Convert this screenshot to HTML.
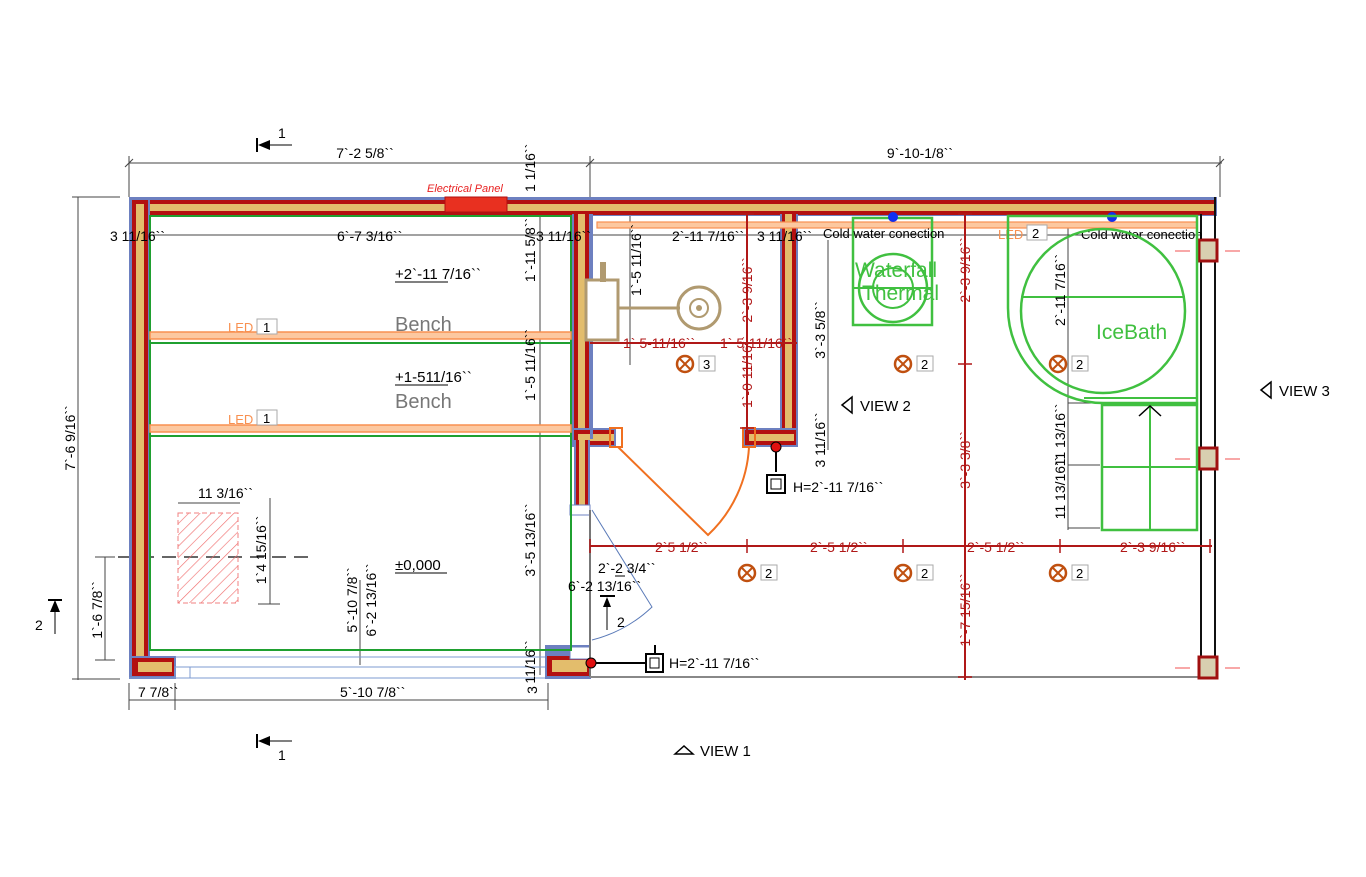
<!DOCTYPE html>
<html><head><meta charset="utf-8"><style>
html,body{margin:0;padding:0;background:#fff}
svg{display:block}
text{font-family:"Liberation Sans",Arial,sans-serif}
</style></head><body>
<svg width="1366" height="877" viewBox="0 0 1366 877" xmlns="http://www.w3.org/2000/svg">
<defs>
<pattern id="hat" width="8" height="8" patternUnits="userSpaceOnUse" patternTransform="rotate(45)">
<line x1="0" y1="0" x2="0" y2="8" stroke="#f07070" stroke-width="1.3"/>
</pattern>
</defs>
<rect width="1366" height="877" fill="#fff"/>

<g stroke="#444" stroke-width="1" fill="none">
<line x1="129" y1="163" x2="1222" y2="163"/>
<line x1="129" y1="156" x2="129" y2="197"/><line x1="590" y1="156" x2="590" y2="197"/><line x1="1220" y1="156" x2="1220" y2="197"/>
<line x1="125" y1="167" x2="133" y2="159"/><line x1="586" y1="167" x2="594" y2="159"/><line x1="1216" y1="167" x2="1224" y2="159"/>
<line x1="78" y1="197" x2="78" y2="680"/>
<line x1="72" y1="197" x2="120" y2="197"/><line x1="72" y1="679" x2="120" y2="679"/>
<line x1="129" y1="235" x2="1200" y2="235"/>
<line x1="129" y1="700" x2="548" y2="700"/>
<line x1="129" y1="683" x2="129" y2="710"/><line x1="175" y1="683" x2="175" y2="710"/><line x1="548" y1="683" x2="548" y2="710"/>
<line x1="540" y1="205" x2="540" y2="675"/>
<line x1="630" y1="205" x2="630" y2="365"/>
<line x1="828" y1="240" x2="828" y2="450"/>
<line x1="1068" y1="225" x2="1068" y2="530"/>
<line x1="1068" y1="403" x2="1100" y2="403"/><line x1="1068" y1="465" x2="1100" y2="465"/><line x1="1068" y1="528" x2="1100" y2="528"/>
<line x1="105" y1="557" x2="105" y2="660"/>
<line x1="95" y1="557" x2="115" y2="557"/><line x1="95" y1="660" x2="115" y2="660"/>
<line x1="178" y1="503" x2="240" y2="503"/>
<line x1="270" y1="498" x2="270" y2="604"/>
<line x1="258" y1="604" x2="280" y2="604"/>
<line x1="360" y1="580" x2="360" y2="665"/>
</g>
<g stroke="#666" stroke-width="2" stroke-dasharray="14,8"><line x1="118" y1="557" x2="310" y2="557"/></g>
<text x="365" y="158" font-size="14" text-anchor="middle">7`-2 5/8``</text>
<text x="920" y="158" font-size="14" text-anchor="middle">9`-10-1/8``</text>
<text transform="translate(75,438) rotate(-90)" font-size="14" text-anchor="middle">7`-6 9/16``</text>
<g stroke="#000" stroke-width="2"><line x1="257" y1="138" x2="257" y2="152"/><line x1="257" y1="734" x2="257" y2="748"/><line x1="48" y1="600" x2="62" y2="600"/></g>
<polygon points="258,145 270,140 270,150" fill="#000"/><line x1="270" y1="145" x2="292" y2="145" stroke="#000"/>
<polygon points="258,741 270,736 270,746" fill="#000"/><line x1="270" y1="741" x2="292" y2="741" stroke="#000"/>
<polygon points="55,600 50,612 60,612" fill="#000"/><line x1="55" y1="612" x2="55" y2="634" stroke="#000"/>
<text x="278" y="138" font-size="14">1</text><text x="278" y="760" font-size="14">1</text><text x="35" y="630" font-size="14">2</text>

<g>
<rect x="129" y="197" width="1088" height="19" fill="#6d80c0"/>
<rect x="132" y="200" width="1083" height="15" fill="#b31010"/>
<rect x="132" y="204" width="1083" height="7" fill="#e3bd6c"/>
<rect x="129" y="197" width="21" height="482" fill="#6d80c0"/>
<rect x="132" y="200" width="16" height="476" fill="#b31010"/>
<rect x="136" y="204" width="8" height="470" fill="#e3bd6c"/>
<rect x="572" y="214" width="19" height="228" fill="#6d80c0"/>
<rect x="574" y="214" width="15" height="226" fill="#b31010"/>
<rect x="578" y="214" width="7" height="224" fill="#e3bd6c"/>
<rect x="572" y="428" width="44" height="19" fill="#6d80c0"/>
<rect x="574" y="430" width="40" height="15" fill="#b31010"/>
<rect x="578" y="434" width="36" height="7" fill="#e3bd6c"/>
<rect x="574" y="440" width="16" height="66" fill="#6d80c0"/>
<rect x="576" y="440" width="12" height="66" fill="#b31010"/>
<rect x="579" y="440" width="6" height="66" fill="#e3bd6c"/>
<rect x="610" y="428" width="12" height="19" fill="none" stroke="#f07020" stroke-width="2"/>
<rect x="780" y="214" width="18" height="228" fill="#6d80c0"/>
<rect x="782" y="214" width="14" height="226" fill="#b31010"/>
<rect x="785" y="214" width="7" height="224" fill="#e3bd6c"/>
<rect x="743" y="428" width="55" height="19" fill="#6d80c0"/>
<rect x="745" y="430" width="51" height="15" fill="#b31010"/>
<rect x="749" y="434" width="45" height="7" fill="#e3bd6c"/>
<rect x="743" y="428" width="12" height="19" fill="none" stroke="#f07020" stroke-width="2"/>
<rect x="590" y="214" width="3" height="225" fill="#6d80c0"/>
<rect x="129" y="656" width="47" height="23" fill="#6d80c0"/>
<rect x="132" y="658" width="42" height="18" fill="#b31010"/>
<rect x="138" y="662" width="34" height="10" fill="#e3bd6c"/>
<rect x="545" y="645" width="46" height="34" fill="#6d80c0"/>
<rect x="547" y="656" width="42" height="20" fill="#b31010"/>
<rect x="552" y="660" width="35" height="12" fill="#e3bd6c"/>
<rect x="570" y="647" width="20" height="12" fill="#fff" stroke="#6d80c0"/>
<rect x="570" y="505" width="20" height="10" fill="#fff" stroke="#6d80c0"/>
<rect x="445" y="197" width="62" height="15" fill="#e83020" stroke="#b01010"/>
<line x1="590" y1="510" x2="590" y2="677" stroke="#777" stroke-width="2"/>
<line x1="590" y1="677" x2="1205" y2="677" stroke="#888" stroke-width="2"/>
</g>
<g stroke="#7d9bd0" stroke-width="1" fill="none">
<line x1="175" y1="657" x2="545" y2="657"/><line x1="175" y1="667" x2="545" y2="667"/><line x1="129" y1="678" x2="545" y2="678"/>
<rect x="175" y="667" width="15" height="11"/>
</g>
<g stroke="#111" stroke-width="2" fill="none"><line x1="1201" y1="214" x2="1201" y2="679"/><line x1="1215" y1="197" x2="1215" y2="679"/></g>
<g fill="#d8cfb0" stroke="#a01010" stroke-width="3">
<rect x="1199" y="240" width="18" height="21"/><rect x="1199" y="448" width="18" height="21"/><rect x="1199" y="657" width="18" height="21"/>
</g>
<g stroke="#f05050" stroke-width="1">
<line x1="1175" y1="251" x2="1190" y2="251"/><line x1="1225" y1="251" x2="1240" y2="251"/>
<line x1="1175" y1="459" x2="1190" y2="459"/><line x1="1225" y1="459" x2="1240" y2="459"/>
<line x1="1175" y1="668" x2="1190" y2="668"/><line x1="1225" y1="668" x2="1240" y2="668"/>
</g>

<rect x="150" y="216" width="421" height="434" fill="none" stroke="#1fa030" stroke-width="2"/>
<line x1="150" y1="343" x2="571" y2="343" stroke="#1fa030" stroke-width="2"/>
<line x1="150" y1="436" x2="571" y2="436" stroke="#1fa030" stroke-width="2"/>
<rect x="150" y="332" width="421" height="7" fill="#fcc8a0" stroke="#f89050" stroke-width="1.5"/>
<rect x="150" y="425" width="421" height="7" fill="#fcc8a0" stroke="#f89050" stroke-width="1.5"/>
<rect x="597" y="222" width="600" height="6" fill="#fcc8a0" stroke="#f89050" stroke-width="1.2"/>
<text x="228" y="332" font-size="13" fill="#f89050">LED</text><rect x="257" y="319" width="20" height="15" fill="#fff" stroke="#aaa"/><text x="263" y="332" font-size="13">1</text>
<text x="228" y="424" font-size="13" fill="#f89050">LED</text><rect x="257" y="410" width="20" height="15" fill="#fff" stroke="#aaa"/><text x="263" y="423" font-size="13">1</text>
<text x="998" y="239" font-size="13" fill="#f89050">LED</text><rect x="1027" y="225" width="20" height="15" fill="#fff" stroke="#aaa"/><text x="1032" y="238" font-size="13">2</text>
<text x="395" y="279" font-size="15">+2`-11 7/16``</text><line x1="395" y1="282" x2="448" y2="282" stroke="#000"/>
<text x="395" y="331" font-size="20" fill="#777">Bench</text>
<text x="395" y="382" font-size="15">+1-511/16``</text><line x1="395" y1="385" x2="448" y2="385" stroke="#000"/>
<text x="395" y="408" font-size="20" fill="#777">Bench</text>
<text x="395" y="570" font-size="15">±0,000</text><line x1="395" y1="573" x2="447" y2="573" stroke="#000"/>
<text x="427" y="192" font-size="11" fill="#e82020" font-style="italic">Electrical Panel</text>
<text x="110" y="241" font-size="14">3 11/16``</text>
<text x="337" y="241" font-size="14">6`-7 3/16``</text>
<text x="536" y="241" font-size="14">3 11/16``</text>
<text x="672" y="241" font-size="14">2`-11 7/16``</text>
<text x="757" y="241" font-size="14">3 11/16``</text>
<text transform="translate(535,250) rotate(-90)" font-size="14" text-anchor="middle">1`-11 5/8``</text>
<text transform="translate(535,365) rotate(-90)" font-size="14" text-anchor="middle">1`-5 11/16``</text>
<text transform="translate(535,540) rotate(-90)" font-size="14" text-anchor="middle">3`-5 13/16``</text>
<text transform="translate(535,662) rotate(-90)" font-size="14" text-anchor="middle">11/16``</text>
<text transform="translate(535,192) rotate(-90)" font-size="14">1 1/16``</text>
<text transform="translate(102,610) rotate(-90)" font-size="14" text-anchor="middle">1`-6 7/8``</text>
<text transform="translate(266,550) rotate(-90)" font-size="14" text-anchor="middle">1`4 15/16``</text>
<text x="198" y="498" font-size="14">11 3/16``</text>
<text transform="translate(357,600) rotate(-90)" font-size="14" text-anchor="middle">5`-10 7/8``</text>
<text transform="translate(376,600) rotate(-90)" font-size="14" text-anchor="middle">6`-2 13/16``</text>
<text x="138" y="697" font-size="14">7 7/8``</text>
<text x="340" y="697" font-size="14">5`-10 7/8``</text>
<text transform="translate(537,690) rotate(-90)" font-size="14" text-anchor="middle">3</text>
<rect x="178" y="513" width="60" height="90" fill="url(#hat)" stroke="#f08080" stroke-dasharray="5,3"/>

<rect x="586" y="280" width="32" height="60" fill="#fff" stroke="#b09a70" stroke-width="3"/>
<rect x="600" y="262" width="6" height="20" fill="#b09a70"/>
<line x1="618" y1="308" x2="680" y2="308" stroke="#b09a70" stroke-width="3"/>
<circle cx="699" cy="308" r="21" fill="none" stroke="#b09a70" stroke-width="3"/>
<circle cx="699" cy="308" r="9" fill="none" stroke="#b09a70" stroke-width="2"/>
<circle cx="699" cy="308" r="3" fill="#b09a70"/>
<text transform="translate(641,260) rotate(-90)" font-size="14" text-anchor="middle">1`-5 11/16``</text>

<g stroke="#b01818" stroke-width="2" fill="none">
<line x1="590" y1="343" x2="797" y2="343"/>
<line x1="747" y1="214" x2="747" y2="435"/>
<line x1="965" y1="214" x2="965" y2="680"/>
<line x1="590" y1="546" x2="1212" y2="546"/>
</g>
<g stroke="#b01818" stroke-width="1.5">
<line x1="590" y1="539" x2="590" y2="553"/><line x1="747" y1="539" x2="747" y2="553"/><line x1="903" y1="539" x2="903" y2="553"/><line x1="1060" y1="539" x2="1060" y2="553"/><line x1="1210" y1="539" x2="1210" y2="553"/>
<line x1="958" y1="364" x2="972" y2="364"/><line x1="958" y1="214" x2="972" y2="214"/><line x1="958" y1="677" x2="972" y2="677"/>
<line x1="740" y1="214" x2="754" y2="214"/><line x1="740" y1="428" x2="754" y2="428"/>
</g>
<g fill="#b01818" font-size="14">
<text x="623" y="348">1` 5-11/16``</text><text x="720" y="348">1` 5-11/16``</text>
<text transform="translate(752,290) rotate(-90)" text-anchor="middle">2`-3 9/16``</text>
<text transform="translate(752,372) rotate(-90)" text-anchor="middle">1`-0 11/16``</text>
<text transform="translate(970,270) rotate(-90)" text-anchor="middle">2`-3 9/16``</text>
<text transform="translate(970,460) rotate(-90)" text-anchor="middle">3`-3 3/8``</text>
<text transform="translate(970,610) rotate(-90)" text-anchor="middle">1`-7 15/16``</text>
<text x="655" y="552">2`5 1/2``</text><text x="810" y="552">2`-5 1/2``</text><text x="967" y="552">2`-5 1/2``</text><text x="1120" y="552">2`-3 9/16``</text>
</g>
<g fill="none" stroke="#c05010" stroke-width="2.5">
<circle cx="685" cy="364" r="8"/><circle cx="903" cy="364" r="8"/><circle cx="1058" cy="364" r="8"/>
<circle cx="747" cy="573" r="8"/><circle cx="903" cy="573" r="8"/><circle cx="1058" cy="573" r="8"/>
</g>
<g stroke="#c05010" stroke-width="2">
<path d="M680,359l10,10M690,359l-10,10M898,359l10,10M908,359l-10,10M1053,359l10,10M1063,359l-10,10M742,568l10,10M752,568l-10,10M898,568l10,10M908,568l-10,10M1053,568l10,10M1063,568l-10,10"/>
</g>
<g font-size="13"><g fill="#fff" stroke="#aaa"><rect x="699" y="356" width="16" height="15"/><rect x="917" y="356" width="16" height="15"/><rect x="1072" y="356" width="16" height="15"/><rect x="761" y="565" width="16" height="15"/><rect x="917" y="565" width="16" height="15"/><rect x="1072" y="565" width="16" height="15"/></g>
<text x="703" y="369">3</text><text x="921" y="369">2</text><text x="1076" y="369">2</text><text x="765" y="578">2</text><text x="921" y="578">2</text><text x="1076" y="578">2</text></g>

<path d="M618,447 L708,535 A130,130 0 0 0 749,447" fill="none" stroke="#f07020" stroke-width="2"/>
<path d="M592,510 L652,607 A135,135 0 0 1 592,640" fill="none" stroke="#5a7ab8" stroke-width="1"/>
<text x="598" y="573" font-size="14">2`-2 3/4``</text><line x1="615" y1="576" x2="625" y2="576" stroke="#000"/>
<text x="568" y="591" font-size="14">6`-2 13/16``</text>
<line x1="600" y1="596" x2="615" y2="596" stroke="#000" stroke-width="2"/><polygon points="607,597 603,607 611,607" fill="#000"/><line x1="607" y1="605" x2="607" y2="630" stroke="#000"/>
<text x="617" y="627" font-size="14">2</text>

<circle cx="776" cy="447" r="5" fill="#e01010" stroke="#000"/><line x1="776" y1="452" x2="776" y2="472" stroke="#000" stroke-width="2"/>
<rect x="767" y="475" width="18" height="18" fill="#fff" stroke="#000" stroke-width="2"/><rect x="771" y="479" width="10" height="10" fill="none" stroke="#000"/>
<text x="793" y="492" font-size="14">H=2`-11 7/16``</text>
<circle cx="591" cy="663" r="5" fill="#e01010" stroke="#000"/><line x1="596" y1="663" x2="646" y2="663" stroke="#000" stroke-width="2"/>
<rect x="646" y="654" width="17" height="18" fill="#fff" stroke="#000" stroke-width="2"/><rect x="650" y="658" width="9" height="10" fill="none" stroke="#000"/>
<line x1="655" y1="654" x2="655" y2="645" stroke="#000" stroke-width="2"/>
<text x="669" y="668" font-size="14">H=2`-11 7/16``</text>

<rect x="853" y="218" width="79" height="107" fill="none" stroke="#40c040" stroke-width="2.5"/>
<circle cx="893" cy="288" r="34" fill="none" stroke="#40c040" stroke-width="2.5"/>
<circle cx="893" cy="288" r="20" fill="none" stroke="#40c040" stroke-width="2"/>
<line x1="853" y1="288" x2="932" y2="288" stroke="#40c040" stroke-width="2"/>
<text x="855" y="277" font-size="21" fill="#40c040">Waterfall</text>
<text x="862" y="300" font-size="21" fill="#40c040">Thermal</text>
<circle cx="893" cy="217" r="5" fill="#1030f0"/><circle cx="1112" cy="217" r="5" fill="#1030f0"/>
<text x="823" y="238" font-size="13">Cold water conection</text>
<text x="1081" y="239" font-size="13">Cold water conection</text>
<text transform="translate(825,330) rotate(-90)" font-size="14" text-anchor="middle">3`-3 5/8``</text>
<text transform="translate(825,440) rotate(-90)" font-size="14" text-anchor="middle">3 11/16``</text>
<polygon points="842,405 852,397 852,413" fill="#fff" stroke="#000" stroke-width="1.5"/>
<text x="860" y="411" font-size="15">VIEW 2</text>
<polygon points="1261,390 1271,382 1271,398" fill="#fff" stroke="#000" stroke-width="1.5"/>
<text x="1279" y="396" font-size="15">VIEW 3</text>
<polygon points="675,754 684,746 693,754" fill="#fff" stroke="#000" stroke-width="1.5"/>
<text x="700" y="756" font-size="15">VIEW 1</text>

<path d="M1008,216 L1197,216 L1197,403 L1103,403 A95,95 0 0 1 1008,308 Z" fill="none" stroke="#40c040" stroke-width="2.5"/>
<circle cx="1103" cy="311" r="82" fill="none" stroke="#40c040" stroke-width="2.5"/>
<line x1="1021" y1="297" x2="1185" y2="297" stroke="#40c040" stroke-width="2"/>
<line x1="1084" y1="398" x2="1197" y2="398" stroke="#40c040" stroke-width="2"/>
<rect x="1102" y="405" width="95" height="125" fill="none" stroke="#40c040" stroke-width="2.5"/>
<line x1="1150" y1="405" x2="1150" y2="530" stroke="#40c040" stroke-width="2"/>
<line x1="1102" y1="467" x2="1197" y2="467" stroke="#40c040" stroke-width="2"/>
<polyline points="1139,416 1150,406 1161,416" fill="none" stroke="#000" stroke-width="1.5"/>
<text x="1096" y="339" font-size="21" fill="#40c040">IceBath</text>
<text transform="translate(1065,290) rotate(-90)" font-size="14" text-anchor="middle">2`-11 7/16``</text>
<text transform="translate(1065,435) rotate(-90)" font-size="14" text-anchor="middle">11 13/16``</text>
<text transform="translate(1065,488) rotate(-90)" font-size="14" text-anchor="middle">11 13/16``</text>
</svg>
</body></html>
